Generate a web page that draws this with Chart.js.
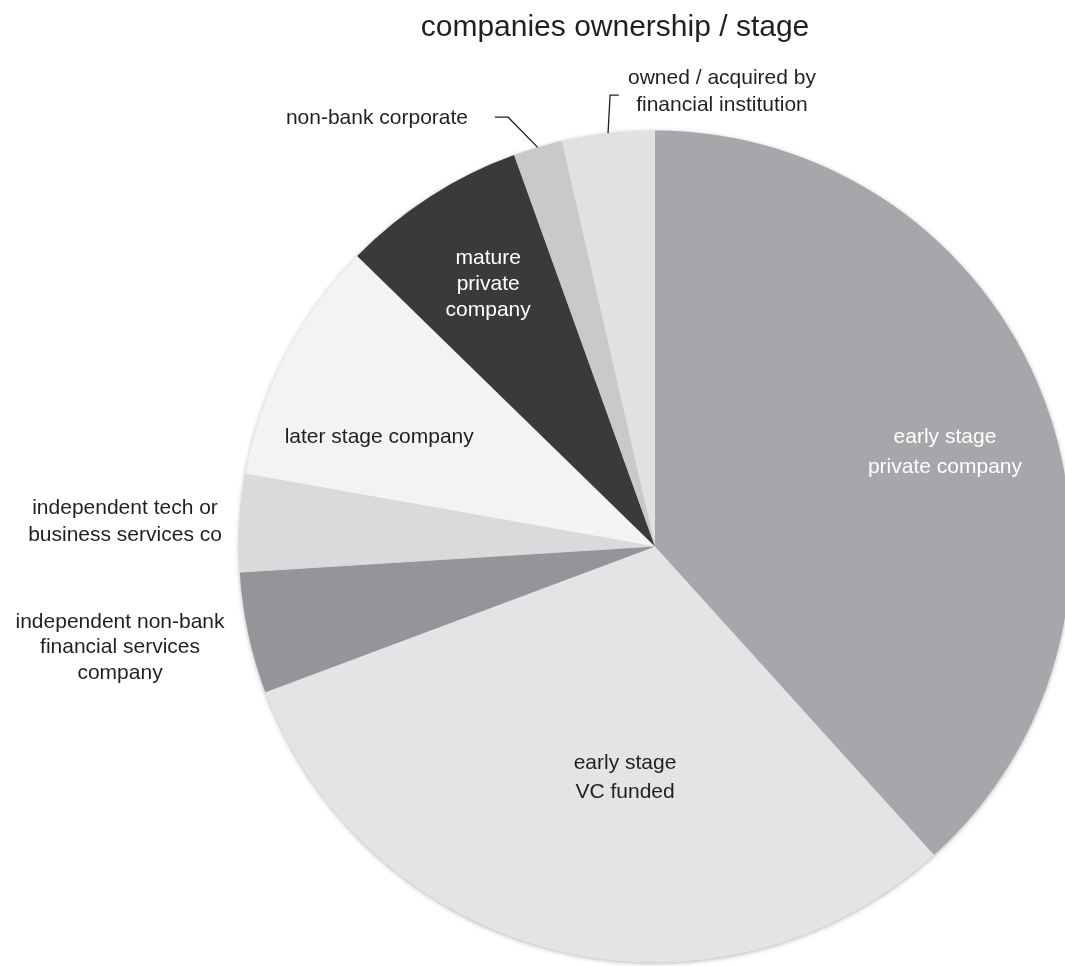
<!DOCTYPE html>
<html>
<head>
<meta charset="utf-8">
<title>companies ownership / stage</title>
<script src="https://cdn.jsdelivr.net/npm/chart.js@4.4.1/dist/chart.umd.min.js"></script>
<style>
  html, body { margin: 0; padding: 0; background: #fff; overflow: hidden; }
  #wrap { position: relative; width: 1065px; height: 966px; }
</style>
</head>
<body>
<div id="wrap"><canvas id="chart" width="1065" height="966"></canvas></div>
<script>
const chartTitle = "companies ownership / stage";

// slice names, one entry per line of the label
const categories = [
  ["early stage", "private company"],
  ["early stage", "VC funded"],
  ["independent non-bank", "financial services", "company"],
  ["independent tech or", "business services co"],
  ["later stage company"],
  ["mature", "private", "company"],
  ["non-bank corporate"],
  ["owned / acquired by", "financial institution"],
];

// share of companies, percent
const shares = [38.3, 31.0, 4.7, 3.8, 9.5, 7.2, 1.9, 3.6];

const sliceColors = ["#a6a7aa", "#e3e4e6", "#939598", "#d9dadc", "#f2f3f2", "#3a3a3a", "#c8c9cb", "#e0e1e3"];
const textColors = ["#ffffff", "#231f20", "#231f20", "#231f20", "#231f20", "#ffffff", "#231f20", "#231f20"];

// label anchors in units of the pie radius, measured from the pie centre
const labelSpots = [
  { x: 0.697, y: -0.227, lh: 30 },
  { x: -0.072, y: 0.555, lh: 29 },
  { x: -1.286, y: 0.243, lh: 25.5 },
  { x: -1.274, y: -0.06, lh: 27 },
  { x: -0.663, y: -0.263, lh: 27 },
  { x: -0.401, y: -0.631, lh: 26 },
  { x: -0.4495, y: -1.03, lh: 27, align: "right", leader: [[-0.353, -1.032], [-0.385, -1.032]] },
  { x: 0.161, y: -1.094, lh: 27, leader: [[-0.108, -1.085], [-0.087, -1.085]] },
];

const FONT = '"Liberation Sans", Arial, Helvetica, sans-serif';

const pieDecor = {
  id: "pieDecor",
  beforeDatasetsDraw(chart) {
    // soft shadow under the whole pie
    const arc = chart.getDatasetMeta(0).data[0];
    if (!arc) return;
    const { x, y, outerRadius } = arc.getProps(["x", "y", "outerRadius"], true);
    const ctx = chart.ctx;
    ctx.save();
    ctx.shadowColor = "rgba(0,0,0,0.35)";
    ctx.shadowBlur = 5;
    ctx.shadowOffsetY = 1;
    ctx.fillStyle = "#c0c0c0";
    ctx.beginPath();
    ctx.arc(x, y, outerRadius - 0.5, 0, Math.PI * 2);
    ctx.fill();
    ctx.restore();
  },
  afterDatasetsDraw(chart) {
    const ctx = chart.ctx;
    const arcs = chart.getDatasetMeta(0).data;
    ctx.save();
    ctx.font = `21px ${FONT}`;
    ctx.textBaseline = "middle";
    arcs.forEach((arc, i) => {
      const p = arc.getProps(["x", "y", "outerRadius", "startAngle", "endAngle"], true);
      const r = p.outerRadius;
      const spot = labelSpots[i];
      if (spot.leader) {
        const mid = (p.startAngle + p.endAngle) / 2;
        ctx.strokeStyle = "#231f20";
        ctx.lineWidth = 1.3;
        ctx.beginPath();
        ctx.moveTo(p.x + r * Math.cos(mid), p.y + r * Math.sin(mid));
        spot.leader.forEach(([fx, fy]) => ctx.lineTo(p.x + fx * r, p.y + fy * r));
        ctx.stroke();
      }
      const lines = categories[i];
      const cx = p.x + spot.x * r;
      const cy = p.y + spot.y * r;
      ctx.fillStyle = textColors[i];
      ctx.textAlign = spot.align || "center";
      lines.forEach((line, k) => {
        ctx.fillText(line, cx, cy + (k - (lines.length - 1) / 2) * spot.lh);
      });
    });
    ctx.restore();
  },
  afterDraw(chart) {
    const ctx = chart.ctx;
    ctx.save();
    ctx.font = `30px ${FONT}`;
    ctx.fillStyle = "#231f20";
    ctx.textAlign = "center";
    ctx.textBaseline = "alphabetic";
    ctx.fillText(chartTitle, 615, 36);
    ctx.restore();
  },
};

new Chart(document.getElementById("chart"), {
  type: "pie",
  data: {
    labels: categories.map((c) => c.join(" ")),
    datasets: [
      {
        data: shares,
        backgroundColor: sliceColors,
        borderWidth: 0,
      },
    ],
  },
  options: {
    responsive: false,
    animation: false,
    devicePixelRatio: 1,
    radius: 416,
    layout: { padding: { left: 245, right: 0, top: 130, bottom: 3 } },
    plugins: {
      legend: { display: false },
      tooltip: { enabled: false },
      title: { display: false },
    },
  },
  plugins: [pieDecor],
});
</script>
</body>
</html>
